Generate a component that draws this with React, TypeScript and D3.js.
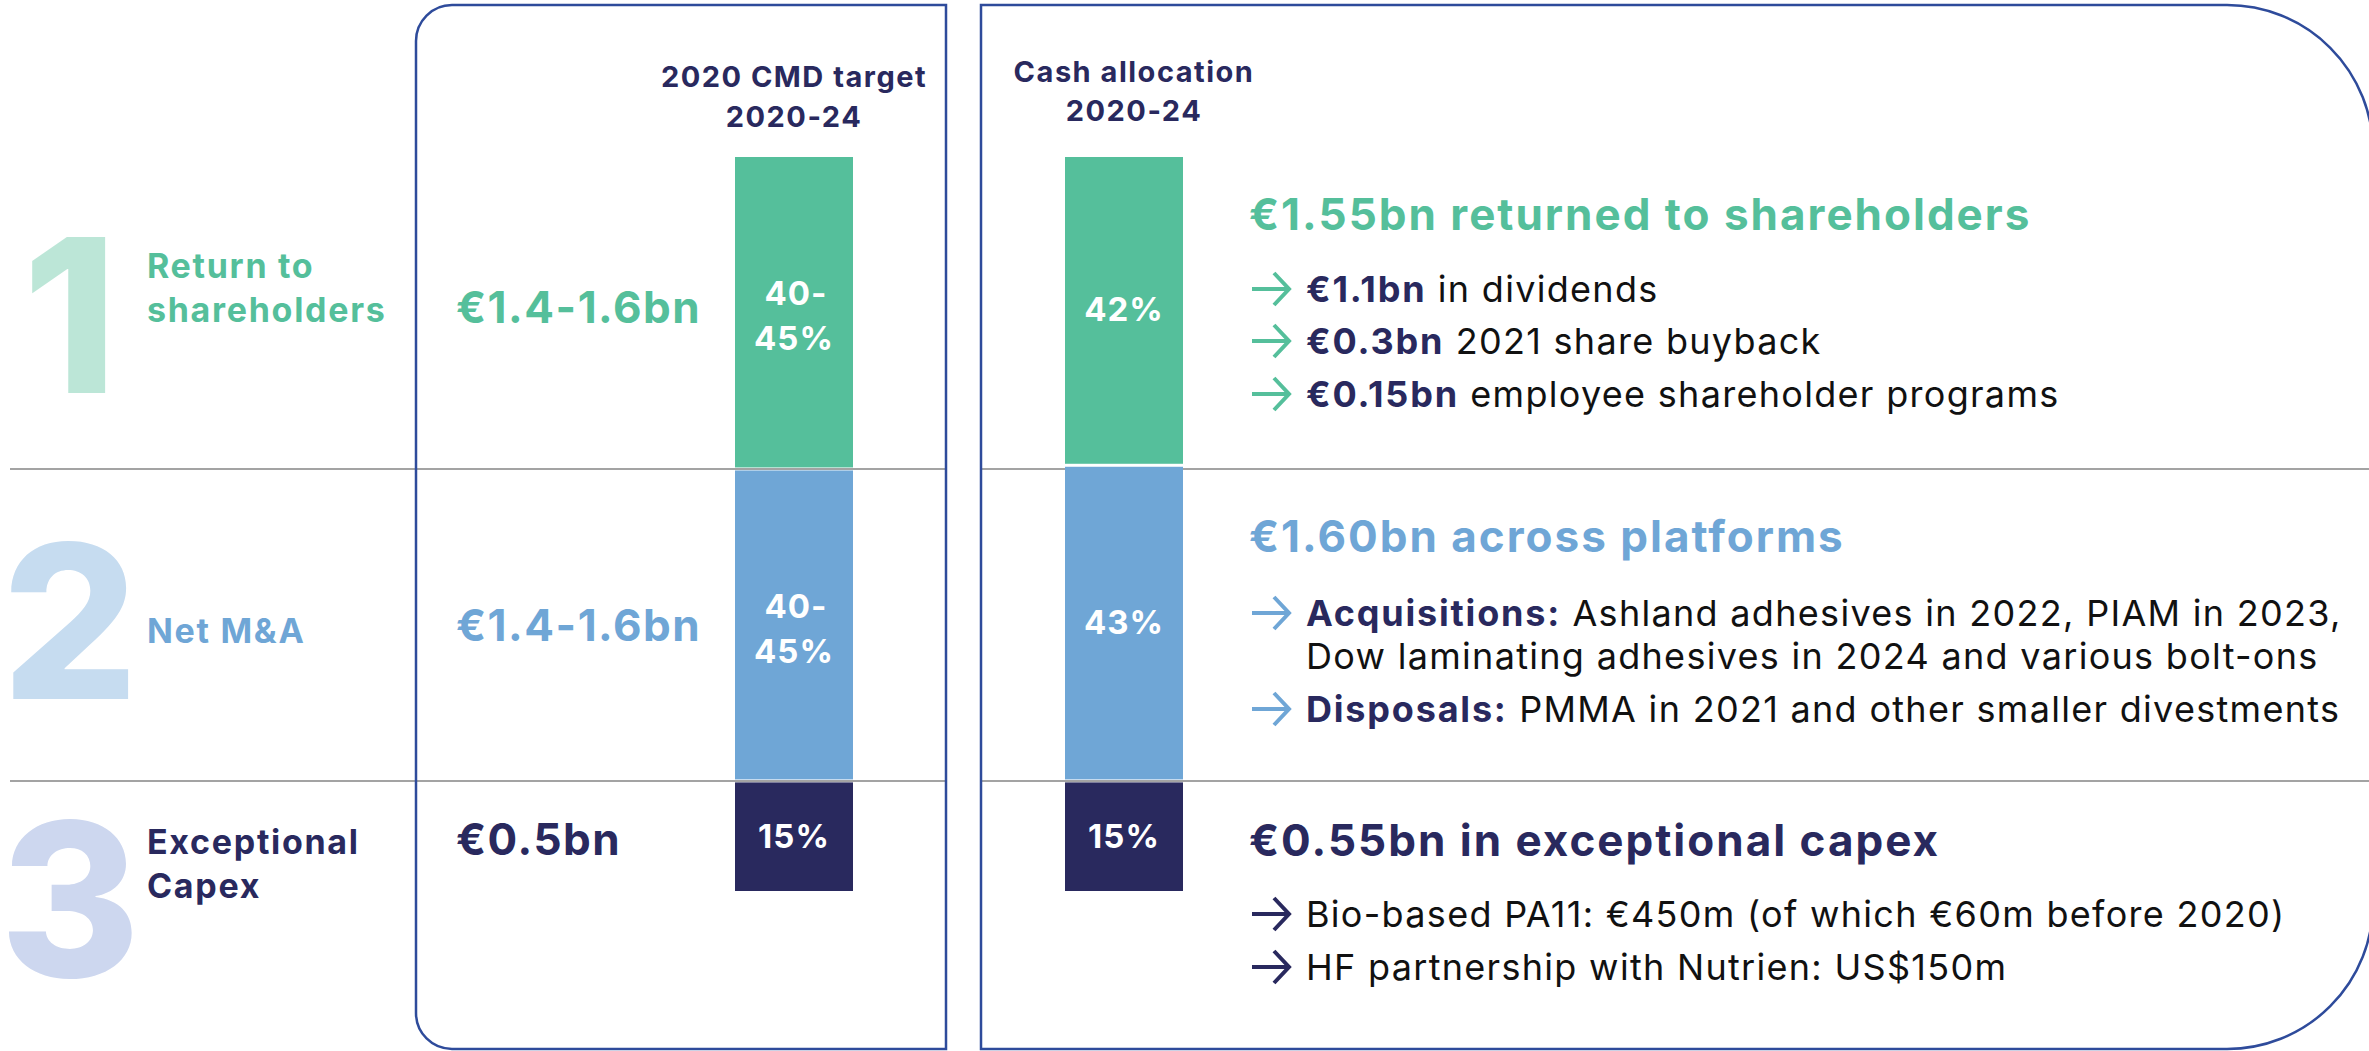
import React from "react";
import * as d3 from "d3";

const W = 2369;
const H = 1051;

const categoryLines = [["Return to", "shareholders"], ["Net M&A"], ["Exceptional", "Capex"]];
const bigNumerals = ["1", "2", "3"];
const targetLow = [40, 40, 15];
const targetHigh = [45, 45, 15];
const targetAmounts = ["€1.4-1.6bn", "€1.4-1.6bn", "€0.5bn"];
const targetLabels = [["40-", "45%"], ["40-", "45%"], ["15%"]];
const cashAllocation = [42, 43, 15];
const headlines = ["€1.55bn returned to shareholders", "€1.60bn across platforms", "€0.55bn in exceptional capex"];
type Seg = { b?: string; t: string };
const bullets: Seg[][][] = [
  [
    [{ b: "€1.1bn", t: " in dividends" }],
    [{ b: "€0.3bn", t: " 2021 share buyback" }],
    [{ b: "€0.15bn", t: " employee shareholder programs" }],
  ],
  [
    [{ b: "Acquisitions:", t: " Ashland adhesives in 2022, PIAM in 2023," }, { t: "Dow laminating adhesives in 2024 and various bolt-ons" }],
    [{ b: "Disposals:", t: " PMMA in 2021 and other smaller divestments" }],
  ],
  [
    [{ t: "Bio-based PA11: €450m (of which €60m before 2020)" }],
    [{ t: "HF partnership with Nutrien: US$150m" }],
  ],
];
const headerLeft = ["2020 CMD target", "2020-24"];
const headerRight = ["Cash allocation", "2020-24"];

const colors = ["#55bf9b", "#6fa6d6", "#29295e"];
const lightColors = ["#bce6d7", "#c6dcf0", "#cdd7ef"];
const navy = "#29295e";
const boxStroke = "#2e4b9b";
const FONT = "Inter, 'Open Sans', sans-serif";

// layout anchors
const barTop = 157;
const barBottom = 891;
const leftBarX = 735;
const rightBarX = 1065;
const barW = 118;

const labelBase = [278, 643, 854];
const valueBase = [323, 641, 855];
const headBase = [230, 552, 856];
const bulletBase = [[302, 354, 407], [626, 669, 722], [927, 980]];
const numeralBase = [393, 699, 977];

function stack(vals: number[]) {
  let acc = 0;
  return vals.map((v) => {
    const s = acc;
    acc += v;
    return [s, acc];
  });
}

const Arrow = ({ x, y, color }: { x: number; y: number; color: string }) => (
  <path
    d={`M${x},${y} H${x + 37} M${x + 22},${y - 16} L${x + 37},${y} L${x + 22},${y + 16}`}
    fill="none"
    stroke={color}
    strokeWidth={4}
  />
);

export default function App() {
  const y = d3.scaleLinear().domain([0, 100]).range([barTop, barBottom]);
  const leftVals = targetLow.map((l, i) => (l + targetHigh[i]) / 2);
  const leftStack = stack(leftVals);
  const rightStack = stack(cashAllocation);
  const sepYs = [y(leftStack[0][1]), y(leftStack[1][1])];

  const boxLeft = { x0: 416, x1: 946, y0: 5, y1: 1049, r: 36 };
  const boxRight = { x0: 981, x1: 2373, y0: 5, y1: 1049, r: 146 };

  const lp = `M${boxLeft.x1},${boxLeft.y0} H${boxLeft.x0 + boxLeft.r} A${boxLeft.r},${boxLeft.r} 0 0 0 ${boxLeft.x0},${boxLeft.y0 + boxLeft.r} V${boxLeft.y1 - boxLeft.r} A${boxLeft.r},${boxLeft.r} 0 0 0 ${boxLeft.x0 + boxLeft.r},${boxLeft.y1} H${boxLeft.x1} Z`;
  const rp = `M${boxRight.x0},${boxRight.y0} H${boxRight.x1 - boxRight.r} A${boxRight.r},${boxRight.r} 0 0 1 ${boxRight.x1},${boxRight.y0 + boxRight.r} V${boxRight.y1 - boxRight.r} A${boxRight.r},${boxRight.r} 0 0 1 ${boxRight.x1 - boxRight.r},${boxRight.y1} H${boxRight.x0} Z`;

  const renderBar = (x: number, st: number[][], labels: string[][]) =>
    st.map(([a, b], i) => {
      const top = y(a) + (i > 0 ? 1.5 : 0);
      const bot = y(b) - (i < st.length - 1 ? 1.5 : 0);
      const mid = (top + bot) / 2;
      const lines = labels[i];
      const cx = x + barW / 2;
      return (
        <g key={i}>
          <rect x={x} y={top} width={barW} height={bot - top} fill={colors[i]} />
          {lines.length === 1 ? (
            <text x={cx} y={mid + 11} textAnchor="middle" fill="#fff" fontSize={33} fontWeight={700} letterSpacing={1}>
              {lines[0]}
            </text>
          ) : (
            lines.map((l, j) => (
              <text key={j} x={cx + (j === 0 ? 2 : 0)} y={mid - 7 + j * 45} textAnchor="middle" fill="#fff" fontSize={33} fontWeight={700} letterSpacing={1}>
                {l}
              </text>
            ))
          )}
        </g>
      );
    });

  return (
    <svg width={W} height={H} style={{ position: "absolute", left: 0, top: 0, fontFamily: FONT }}>
      <rect width={W} height={H} fill="#fff" />
      {/* separators */}
      {sepYs.map((sy, i) => (
        <g key={i}>
          <line x1={10} x2={boxLeft.x1} y1={sy} y2={sy} stroke="#a3a3a3" strokeWidth={2} />
          <line x1={boxRight.x0} x2={W} y1={sy} y2={sy} stroke="#a3a3a3" strokeWidth={2} />
        </g>
      ))}
      <path d={lp} fill="none" stroke={boxStroke} strokeWidth={2.5} />
      <path d={rp} fill="none" stroke={boxStroke} strokeWidth={2.5} />

      {/* headers */}
      {headerLeft.map((t, i) => (
        <text key={t} x={leftBarX + barW / 2} y={87 + i * 40} textAnchor="middle" fill={navy} fontSize={29} fontWeight={700} letterSpacing={1.5}>
          {t}
        </text>
      ))}
      {headerRight.map((t, i) => (
        <text key={t + i} x={rightBarX + barW / 2 + 10} y={82 + i * 39} textAnchor="middle" fill={navy} fontSize={29} fontWeight={700} letterSpacing={1.5}>
          {t}
        </text>
      ))}

      {/* numerals and labels */}
      {bigNumerals.map((n, i) => (
        <text key={n} x={70} y={numeralBase[i]} textAnchor="middle" fill={lightColors[i]} fontSize={214} fontWeight={800}>
          {n}
        </text>
      ))}
      {categoryLines.map((lines, i) =>
        lines.map((l, j) => (
          <text key={i + "-" + j} x={147} y={labelBase[i] + j * 44} fill={i === 2 ? navy : colors[i]} fontSize={34} fontWeight={700} letterSpacing={1.7}>
            {l}
          </text>
        ))
      )}
      {targetAmounts.map((t, i) => (
        <text key={i} x={456} y={valueBase[i]} fill={colors[i]} fontSize={44} fontWeight={700} letterSpacing={1.5}>
          {t}
        </text>
      ))}

      {renderBar(leftBarX, leftStack, targetLabels)}
      {renderBar(rightBarX, rightStack, cashAllocation.map((v) => [v + "%"]))}

      {/* right side text */}
      {headlines.map((h, i) => (
        <text key={h} x={1249} y={headBase[i]} fill={colors[i]} fontSize={44} fontWeight={700} letterSpacing={2}>
          {h}
        </text>
      ))}
      {bullets.map((group, i) => {
        let k = 0;
        return group.map((item, j) =>
          item.map((line, li) => {
            const by = bulletBase[i][k++];
            return (
              <g key={i + "-" + j + "-" + li}>
                {li === 0 && <Arrow x={1252} y={by - 13} color={colors[i]} />}
                <text x={1306} y={by} fontSize={36} fill="#111" letterSpacing={1.3}>
                  {line.b && (
                    <tspan fontWeight={700} fill={navy} letterSpacing={1.8}>
                      {line.b}
                    </tspan>
                  )}
                  <tspan>{line.t}</tspan>
                </text>
              </g>
            );
          })
        );
      })}
    </svg>
  );
}
